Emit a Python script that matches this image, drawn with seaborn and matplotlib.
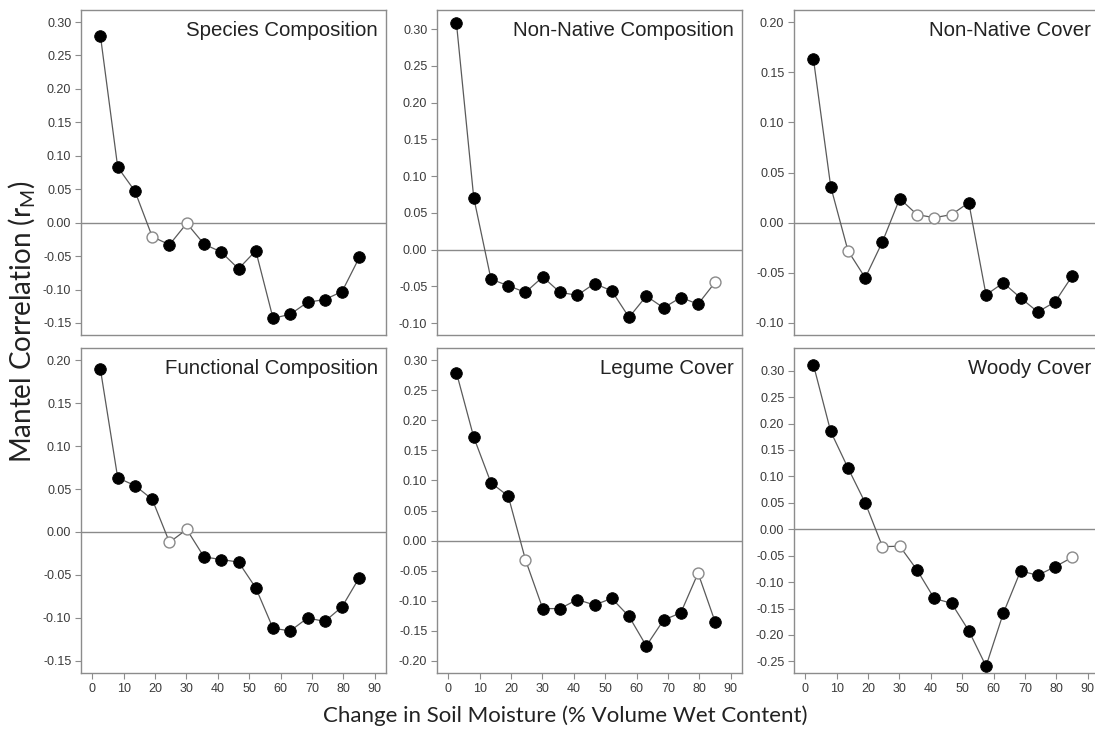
import numpy as np
import pandas as pd
import matplotlib
matplotlib.use("Agg")
import matplotlib.pyplot as plt
from matplotlib.ticker import MultipleLocator, FuncFormatter
import seaborn as sns

# Lag-class midpoints: change in soil moisture (% volume wet content)
moisture_change = [2.6, 8.1, 13.6, 19.1, 24.6, 30.1, 35.6, 41.1,
                   46.6, 52.1, 57.6, 63.1, 68.6, 74.1, 79.6, 85.1]

panel_titles = ["Species Composition", "Non-Native Composition", "Non-Native Cover",
                "Functional Composition", "Legume Cover", "Woody Cover"]

# Mantel correlation (rM) per lag class
species_comp = [0.279, 0.083, 0.047, -0.021, -0.033, -0.001, -0.032, -0.044,
                -0.069, -0.042, -0.143, -0.137, -0.119, -0.115, -0.103, -0.052]
nonnative_comp = [0.308, 0.071, -0.040, -0.049, -0.058, -0.037, -0.058, -0.062,
                  -0.046, -0.056, -0.092, -0.063, -0.079, -0.065, -0.074, -0.044]
nonnative_cover = [0.163, 0.036, -0.028, -0.055, -0.019, 0.024, 0.008, 0.005,
                   0.008, 0.020, -0.072, -0.060, -0.075, -0.089, -0.079, -0.053]
functional_comp = [0.189, 0.063, 0.054, 0.038, -0.012, 0.003, -0.029, -0.032,
                   -0.035, -0.065, -0.112, -0.115, -0.100, -0.104, -0.087, -0.053]
legume_cover = [0.279, 0.172, 0.096, 0.074, -0.032, -0.113, -0.113, -0.098,
                -0.107, -0.096, -0.126, -0.175, -0.132, -0.120, -0.054, -0.136]
woody_cover = [0.311, 0.185, 0.116, 0.050, -0.033, -0.032, -0.077, -0.131,
               -0.140, -0.192, -0.259, -0.159, -0.079, -0.087, -0.071, -0.053]

# Significance at each lag class (0 = not significant, open symbol)
species_sig = [1, 1, 1, 0, 1, 0, 1, 1, 1, 1, 1, 1, 1, 1, 1, 1]
nonnative_comp_sig = [1, 1, 1, 1, 1, 1, 1, 1, 1, 1, 1, 1, 1, 1, 1, 0]
nonnative_cover_sig = [1, 1, 0, 1, 1, 1, 0, 0, 0, 1, 1, 1, 1, 1, 1, 1]
functional_sig = [1, 1, 1, 1, 0, 0, 1, 1, 1, 1, 1, 1, 1, 1, 1, 1]
legume_sig = [1, 1, 1, 1, 0, 1, 1, 1, 1, 1, 1, 1, 1, 1, 0, 1]
woody_sig = [1, 1, 1, 1, 0, 0, 1, 1, 1, 1, 1, 1, 1, 1, 1, 0]

x_ticks = [0, 10, 20, 30, 40, 50, 60, 70, 80, 90]

series = [species_comp, nonnative_comp, nonnative_cover,
          functional_comp, legume_cover, woody_cover]
signif = [species_sig, nonnative_comp_sig, nonnative_cover_sig,
          functional_sig, legume_sig, woody_sig]

frames = []
for title, vals, sig in zip(panel_titles, series, signif):
    frames.append(pd.DataFrame({"panel": title, "x": moisture_change,
                                "r": vals, "sig": [bool(s) for s in sig]}))
df = pd.concat(frames, ignore_index=True)

sns.set_theme(style="white")
plt.rcParams["font.family"] = ["Liberation Sans", "DejaVu Sans"]

W, H = 1095, 732
fig = plt.figure(figsize=(W / 100, H / 100), dpi=100)
fig.patch.set_facecolor("white")

col_left = [81, 437, 794]
row_top = [10, 348]
ax_w, ax_h = 305, 325
y_limits = [(-0.168, 0.318), (-0.116, 0.326), (-0.112, 0.212),
            (-0.164, 0.214), (-0.220, 0.320), (-0.272, 0.343)]

frame_col = "#8c8c8c"
text_col = "#3a3a3a"

for i, title in enumerate(panel_titles):
    r, c = divmod(i, 3)
    left = col_left[c] / W
    bottom = 1 - (row_top[r] + ax_h) / H
    ax = fig.add_axes([left, bottom, ax_w / W, ax_h / H])
    sub = df[df["panel"] == title]

    ax.axhline(0, color="#8a8a8a", lw=1.0, zorder=1)
    sns.lineplot(data=sub, x="x", y="r", ax=ax, color="#5a5a5a", lw=0.9,
                 estimator=None, sort=False, zorder=2)
    sns.scatterplot(data=sub[sub["sig"]], x="x", y="r", ax=ax, color="black",
                    s=70, edgecolor="black", linewidth=0.6, zorder=3)
    sns.scatterplot(data=sub[~sub["sig"]], x="x", y="r", ax=ax, color="white",
                    s=62, edgecolor="#8a8a8a", linewidth=1.0, zorder=3)

    ax.set_xlim(-3.6, 93.6)
    ax.set_ylim(*y_limits[i])
    ax.set_xticks(x_ticks)
    ax.yaxis.set_major_locator(MultipleLocator(0.05))
    ax.yaxis.set_major_formatter(
        FuncFormatter(lambda v, p: f"{v:.2f}".replace("-0.00", "0.00")))
    ax.set_xlabel("")
    ax.set_ylabel("")
    ax.tick_params(axis="both", direction="out", length=4.5, width=0.8,
                   color=frame_col, labelsize=9, labelcolor=text_col, pad=2.5,
                   left=True, bottom=(r == 1), labelbottom=(r == 1))
    for sp in ax.spines.values():
        sp.set_color(frame_col)
        sp.set_linewidth(1.0)
        sp.set_visible(True)
    ax.text(0.974, 0.965, title, transform=ax.transAxes, ha="right", va="top",
            fontsize=14.7, color="#222222")

fig.text(565 / W, 1 - 716 / H, "Change in Soil Moisture (% Volume Wet Content)",
         ha="center", va="center", fontsize=16, color="#222222", family="Lato")
fig.text(22 / W, 1 - 322 / H, r"Mantel Correlation (r$_\mathregular{M}$)",
         ha="center", va="center", rotation=90, fontsize=20, color="#222222",
         family="Lato")

fig.savefig("out.png", dpi=100, facecolor="white")
